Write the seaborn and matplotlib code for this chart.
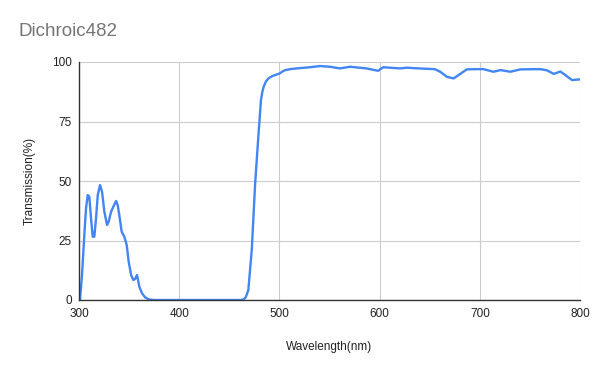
import matplotlib
matplotlib.use("Agg")
import matplotlib.pyplot as plt
import seaborn as sns
import pandas as pd

wavelength = [301, 303, 305.3, 307, 308.7, 310.3, 312, 313.7, 315.3, 317, 318.7, 321, 323, 325.3,
              328, 329.6, 332, 334.3, 337, 338.6, 340.2, 342.6, 345.2, 347.6, 349.6, 352, 354.2,
              355.9, 357.9, 360.2, 362.9, 366, 370, 375, 400, 430, 462, 464.5, 466.5, 469, 472.4,
              475.8, 479.2, 481.6, 483, 484.3, 486.5, 489.3, 493, 497, 500.3, 503, 505.9, 511, 517,
              530.5, 540.5, 550.5, 560.5, 570.5, 587, 598.5, 603.5, 620.4, 627, 643.8, 655, 660.5,
              667, 673.8, 678.8, 687, 697, 703.6, 713.6, 720.6, 730.6, 740.5, 760.5, 767, 773.8,
              780.4, 785.4, 792, 800]
transmission = [0, 10.5, 27.3, 38.5, 44.1, 43.4, 34.3, 26.6, 26.6, 34.3, 44.1, 48.3, 45.5, 37.1,
                31.5, 32.9, 37.1, 39.2, 41.6, 39.9, 35.7, 28.7, 26.6, 23.1, 16.1, 10.5, 8.4,
                8.8, 10.5, 5.6, 2.8, 1.1, 0.2, 0, 0, 0, 0, 0.3, 1.2, 4.2, 21,
                49, 70, 84, 87.5, 89.6, 91.8, 93.2, 94.1, 94.7, 95.2, 96.0, 96.6, 97.0, 97.3,
                97.8, 98.3, 98, 97.3, 98, 97.3, 96.3, 97.8, 97.3, 97.6, 97.2, 97.0, 95.9,
                93.8, 93.1, 94.5, 96.9, 97, 97, 95.9, 96.6, 95.9, 96.9, 97, 96.5, 95,
                96, 94.5, 92.4, 92.7]

df = pd.DataFrame({"Wavelength(nm)": wavelength, "Transmission(%)": transmission})

sns.set_theme(style="white")
plt.rcParams['font.family'] = ['Liberation Sans', 'DejaVu Sans']

fig = plt.figure(figsize=(6, 3.71), dpi=100)
ax = fig.add_axes([79/600, 1-300/371, 501/600, 238/371])

sns.lineplot(data=df, x="Wavelength(nm)", y="Transmission(%)", ax=ax,
             color="#4285f4", linewidth=1.7)

ax.set_xlim(300, 800)
ax.set_ylim(0, 100)
ax.set_xticks([300, 400, 500, 600, 700, 800])
ax.set_yticks([0, 25, 50, 75, 100])
ax.grid(True, color="#cccccc", linewidth=0.8)
ax.set_axisbelow(True)
for s in ["top", "right"]:
    ax.spines[s].set_visible(False)
ax.spines["left"].set_color("#333333")
ax.spines["bottom"].set_color("#333333")
ax.spines["left"].set_linewidth(1.0)
ax.spines["bottom"].set_linewidth(1.0)
ax.tick_params(axis="x", length=0, labelsize=8.5, colors="#222222", pad=6)
ax.tick_params(axis="y", length=0, labelsize=8.5, colors="#222222", pad=5)
ax.set_xlabel("Wavelength(nm)", fontsize=8.5, color="#222222", labelpad=15)
ax.set_ylabel("Transmission(%)", fontsize=8.5, color="#222222", labelpad=12)

fig.text(19/600, 1-32/371, "Dichroic482", fontsize=13.5, color="#757575", va="center", ha="left")

fig.savefig("out.png", dpi=100)
